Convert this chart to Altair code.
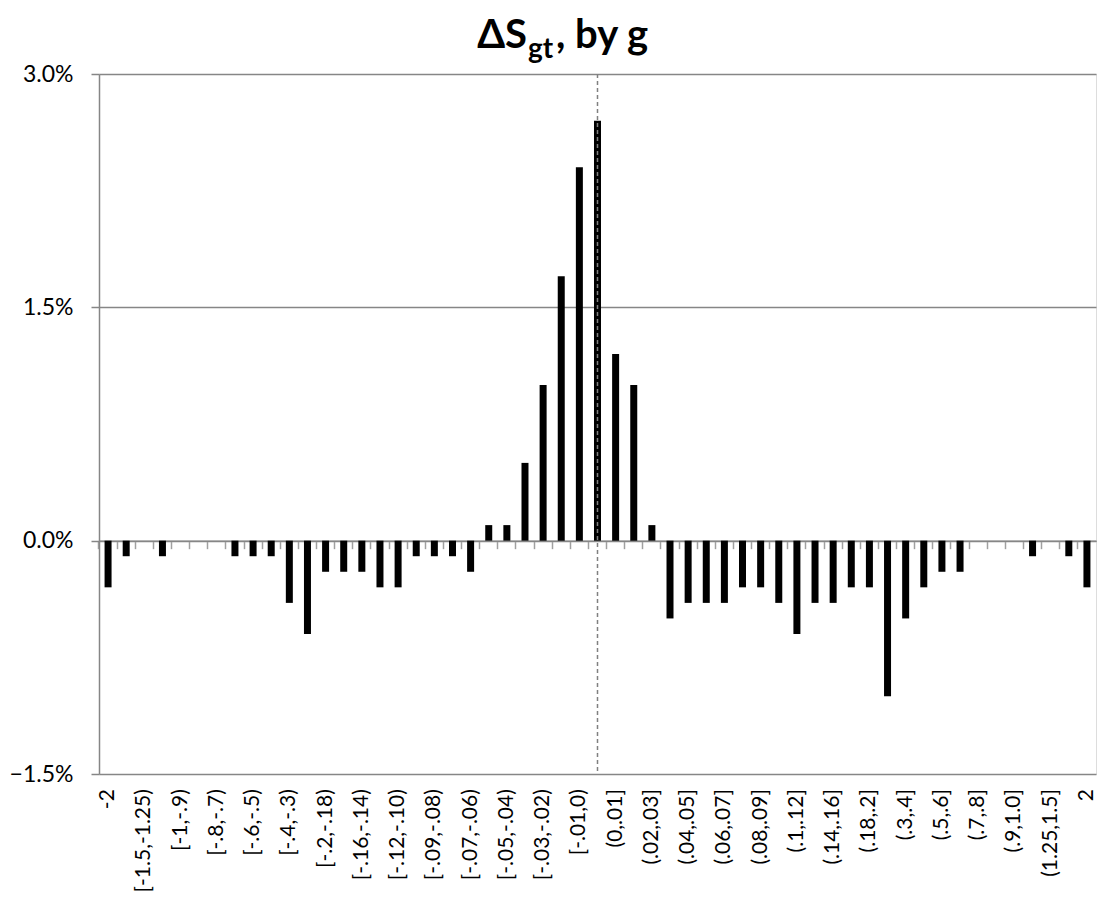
import json
import altair as alt
import pandas as pd

categories = [
    "-2", "[-2,-1.5)", "[-1.5,-1.25)", "[-1.25,-1)", "[-1,-.9)", "[-.9,-.8)",
    "[-.8,-.7)", "[-.7,-.6)", "[-.6,-.5)", "[-.5,-.4)", "[-.4,-.3)", "[-.3,-.2)",
    "[-.2,-.18)", "[-.18,-.16)", "[-.16,-.14)", "[-.14,-.12)", "[-.12,-.10)",
    "[-.10,-.09)", "[-.09,-.08)", "[-.08,-.07)", "[-.07,-.06)", "[-.06,-.05)",
    "[-.05,-.04)", "[-.04,-.03)", "[-.03,-.02)", "[-.02,-.01)", "[-.01,0)", "0",
    "(0,.01]", "(.01,.02]", "(.02,.03]", "(.03,.04]", "(.04,.05]", "(.05,.06]",
    "(.06,.07]", "(.07,.08]", "(.08,.09]", "(.09,.1]", "(.1,.12]", "(.12,.14]",
    "(.14,.16]", "(.16,.18]", "(.18,.2]", "(.2,.3]", "(.3,.4]", "(.4,.5]",
    "(.5,.6]", "(.6,.7]", "(.7,.8]", "(.8,.9]", "(.9,1.0]", "(1.0,1.25]",
    "(1.25,1.5]", "(1.5,2]", "2",
]

# percent values
values_pct = [
    -0.3, -0.1, 0.0, -0.1, 0.0, 0.0, 0.0, -0.1, -0.1, -0.1, -0.4, -0.6,
    -0.2, -0.2, -0.2, -0.3, -0.3, -0.1, -0.1, -0.1, -0.2, 0.1, 0.1, 0.5,
    1.0, 1.7, 2.4, 2.7, 1.2, 1.0, 0.1, -0.5, -0.4, -0.4, -0.4, -0.3,
    -0.3, -0.4, -0.6, -0.4, -0.4, -0.3, -0.3, -1.0, -0.5, -0.3, -0.2, -0.2,
    0.0, 0.0, 0.0, -0.1, 0.0, -0.1, -0.3,
]

shown_labels = categories[::2]
y_ticks = [-0.015, 0.0, 0.015, 0.03]
zero_category = "0"
title_parts = ["\u0394S", "gt", ", by g"]

df = pd.DataFrame({"cat": categories, "v": [p / 100.0 for p in values_pct]})

FONT = "Lato"
GRID = "#868686"

label_expr = "indexof(" + json.dumps(shown_labels) + ", datum.value) >= 0 ? datum.label : ''"

x_enc = alt.X(
    "cat:N",
    sort=categories,
    scale=alt.Scale(paddingInner=0, paddingOuter=0),
    axis=alt.Axis(
        title=None,
        orient="bottom",
        offset=-233.33,
        bandPosition=0,
        domainColor=GRID,
        domainWidth=1.5,
        tickColor="#a0a0a0",
        tickWidth=1.5,
        tickSize=8,
        labelAngle=-90,
        labelAlign="right",
        labelBaseline="middle",
        labelPadding=240,
        labelFont=FONT,
        labelFontSize=21,
        labelColor="#000000",
        labelExpr=label_expr,
        labelOverlap=False,
        labelBound=False,
        grid=False,
    ),
)

y_enc = alt.Y(
    "v:Q",
    scale=alt.Scale(domain=[-0.015, 0.03], nice=False),
    axis=alt.Axis(
        title=None,
        values=y_ticks,
        format=".1%",
        grid=True,
        gridColor=GRID,
        gridWidth=1.5,
        domainColor=GRID,
        domainWidth=1.5,
        tickColor=GRID,
        tickWidth=1.5,
        tickSize=8,
        labelPadding=18,
        labelFont=FONT,
        labelFontSize=23,
        labelColor="#000000",
    ),
)

base = alt.Chart(df)

bars = base.mark_bar(color="#000000", width=7).encode(x=x_enc, y=y_enc)

zero_rule = (
    base.transform_filter(alt.datum.cat == zero_category)
    .mark_rule(color="#808080", strokeDash=[4, 3], strokeWidth=1.5)
    .encode(x=x_enc)
)

t_main = (
    alt.Chart(pd.DataFrame({"t": [title_parts[0]]}))
    .mark_text(font=FONT, fontWeight="bold", fontSize=40, align="right", baseline="alphabetic", color="#000000")
    .encode(text="t:N", x=alt.value(428), y=alt.value(-26))
)
t_sub = (
    alt.Chart(pd.DataFrame({"t": [title_parts[1]]}))
    .mark_text(font=FONT, fontWeight="bold", fontSize=28, align="left", baseline="alphabetic", color="#000000")
    .encode(text="t:N", x=alt.value(429), y=alt.value(-16))
)
t_rest = (
    alt.Chart(pd.DataFrame({"t": [title_parts[2]]}))
    .mark_text(font=FONT, fontWeight="bold", fontSize=40, align="left", baseline="alphabetic", color="#000000")
    .encode(text="t:N", x=alt.value(457), y=alt.value(-26))
)

chart = (
    alt.layer(bars, zero_rule, t_main, t_sub, t_rest)
    .properties(
        width=997,
        height=700,
        autosize=alt.AutoSizeParams(type="none"),
        padding={"left": 91, "top": 66, "right": 5, "bottom": 122},
    )
    .configure_view(stroke="transparent")
    .configure(background="#ffffff")
)

chart.save("out.html", embed_options={"renderer": "svg", "actions": False})
